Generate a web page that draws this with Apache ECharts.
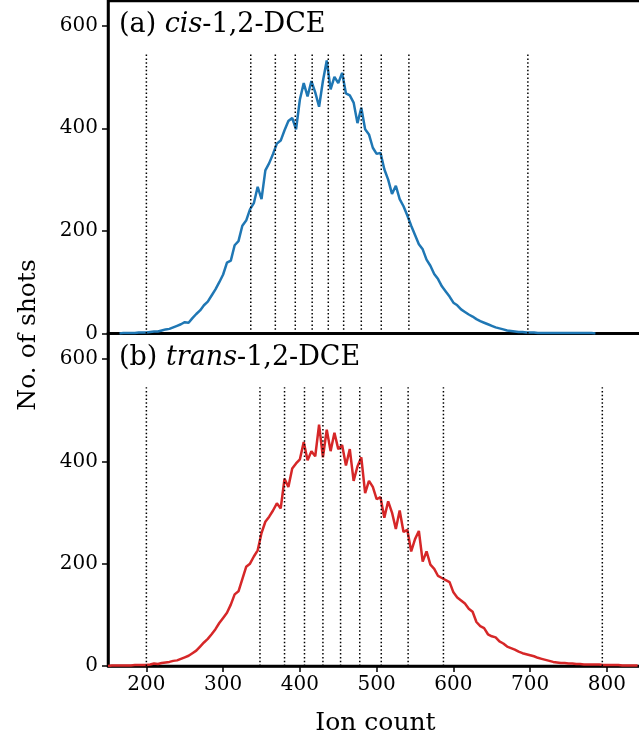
<!DOCTYPE html>
<html>
<head>
<meta charset="utf-8">
<script src="https://cdn.jsdelivr.net/npm/echarts@6/dist/echarts.min.js"></script>
<style>
  html, body { margin: 0; padding: 0; background: #fff; }
  #main { width: 639px; height: 742px; }
</style>
</head>
<body>
<div id="main"></div>
<script>
// histogram bins: first bin centre and bin spacing (ion count)
var binStep = 5;
var cisStart = 165;
var transStart = 150;

// (a) cis-1,2-DCE, number of shots per bin
var cisCounts = [
    0, 1, 1, 1, 1, 2, 2, 2, 3, 4, 4, 6, 8, 9, 12, 15, 18, 22, 21, 30,
    38, 45, 55, 62, 74, 86, 100, 115, 138, 142, 172, 180, 210, 220, 242, 254, 286, 262, 318, 332,
    350, 370, 376, 396, 414, 420, 398, 456, 488, 462, 492, 470, 442, 492, 532, 476, 500, 488, 508, 468,
    464, 450, 410, 440, 398, 388, 362, 350, 352, 320, 300, 272, 288, 262, 248, 230, 210, 192, 174, 164,
    144, 132, 116, 106, 92, 82, 72, 60, 55, 47, 42, 37, 33, 28, 24, 21, 18, 15, 12, 10,
    8, 6, 5, 4, 3, 3, 2, 2, 2, 1, 1, 1, 1, 1, 1, 1, 1, 1, 1, 1,
    1, 1, 1, 1, 0
];

// (b) trans-1,2-DCE, number of shots per bin
var transCounts = [
    0, 1, 1, 1, 1, 1, 1, 2, 2, 2, 2, 3, 5, 4, 6, 7, 8, 10, 11, 14,
    17, 20, 25, 30, 38, 46, 53, 62, 72, 84, 94, 104, 120, 140, 146, 170, 194, 200, 214, 226,
    260, 282, 292, 304, 318, 308, 366, 350, 386, 396, 404, 438, 402, 420, 410, 472, 408, 462, 420, 456,
    424, 432, 392, 424, 362, 390, 408, 338, 362, 350, 326, 330, 290, 322, 300, 268, 304, 262, 266, 224,
    248, 264, 204, 224, 198, 190, 176, 172, 168, 164, 144, 134, 128, 122, 112, 106, 86, 78, 74, 62,
    58, 56, 48, 44, 38, 35, 32, 28, 25, 23, 21, 19, 16, 14, 12, 10, 8, 7, 6, 6,
    5, 5, 4, 4, 3, 3, 3, 3, 3, 2, 2, 2, 2, 2, 1, 1, 1, 1, 1
];

// dotted marker positions (ion count)
var cisCuts = [200, 336, 368, 394, 416, 437, 457, 480, 506, 542, 697];
var transCuts = [200, 348, 380, 406, 430, 453, 478, 506, 541, 587, 794];
var cutHeight = 545;

var yTicks = [0, 200, 400, 600];
var xTicks = [200, 300, 400, 500, 600, 700, 800];

var font = "'DejaVu Serif', serif";

function toPairs(start, counts) {
    var out = [];
    for (var i = 0; i < counts.length; i++) {
        out.push([start + i * binStep, counts[i]]);
    }
    return out;
}

var myChart = echarts.init(document.getElementById('main'), null, {renderer: 'canvas'});

function yAxisFor(grid, max) {
    return {
        type: 'value',
        gridIndex: grid,
        min: 0,
        max: max,
        axisLine: {show: true, lineStyle: {color: '#000', width: 2.5}},
        axisTick: {show: true, length: 6, customValues: yTicks, lineStyle: {color: '#000', width: 1.5}},
        axisLabel: {
            customValues: yTicks,
            margin: 10,
            color: '#000',
            fontFamily: font,
            fontSize: 20
        },
        splitLine: {show: false}
    };
}

function xAxisFor(grid, showLabels) {
    return {
        type: 'value',
        gridIndex: grid,
        min: 150,
        max: 847,
        axisLine: {show: true, onZero: false, lineStyle: {color: '#000', width: 2.5}},
        axisTick: {show: showLabels, length: 6, customValues: xTicks, lineStyle: {color: '#000', width: 1.5}},
        axisLabel: {
            show: showLabels,
            customValues: xTicks,
            margin: 9,
            color: '#000',
            fontFamily: font,
            fontSize: 20
        },
        splitLine: {show: false},
        name: showLabels ? 'Ion count' : '',
        nameLocation: 'middle',
        nameGap: 45,
        nameTextStyle: {color: '#000', fontFamily: font, fontSize: 25}
    };
}

var series = [];

function addCuts(cuts, idx) {
    cuts.forEach(function (c) {
        series.push({
            type: 'line',
            xAxisIndex: idx,
            yAxisIndex: idx,
            data: [[c, 0], [c, cutHeight]],
            showSymbol: false,
            silent: true,
            z: 5,
            lineStyle: {color: '#000', width: 1.5, type: [1.5, 2.3]}
        });
    });
}

series.push({
    type: 'line',
    xAxisIndex: 0,
    yAxisIndex: 0,
    data: toPairs(cisStart, cisCounts),
    showSymbol: false,
    z: 3,
    lineStyle: {color: '#1f77b4', width: 2.5}
});
series.push({
    type: 'line',
    xAxisIndex: 1,
    yAxisIndex: 1,
    data: toPairs(transStart, transCounts),
    showSymbol: false,
    z: 3,
    lineStyle: {color: '#d62728', width: 2.5}
});
addCuts(cisCuts, 0);
addCuts(transCuts, 1);

var rich = {
    n: {fontFamily: font, fontSize: 27, fontWeight: 'normal', color: '#000'},
    i: {fontFamily: font, fontSize: 27, fontWeight: 'normal', fontStyle: 'italic', color: '#000'}
};

var option = {
    animation: false,
    backgroundColor: '#fff',
    title: [
        {text: '{n|(a) }{i|cis}{n|-1,2-DCE}', left: 119, top: 11, padding: 0, textStyle: {fontWeight: 'normal', rich: rich}},
        {text: '{n|(b) }{i|trans}{n|-1,2-DCE}', left: 119, top: 344, padding: 0, textStyle: {fontWeight: 'normal', rich: rich}}
    ],
    grid: [
        {left: 108, right: -4, top: 1, height: 332.5, show: true, borderColor: '#000', borderWidth: 2.5, outerBoundsMode: 'none'},
        {left: 108, right: -4, top: 333.5, height: 332.5, show: true, borderColor: '#000', borderWidth: 2.5, outerBoundsMode: 'none'}
    ],
    xAxis: [xAxisFor(0, false), xAxisFor(1, true)],
    yAxis: [yAxisFor(0, 648), yAxisFor(1, 650)],
    graphic: [{
        type: 'text',
        x: 28,
        y: 335,
        rotation: Math.PI / 2,
        style: {
            text: 'No. of shots',
            fontFamily: font,
            fontSize: 25,
            fill: '#000',
            align: 'center',
            verticalAlign: 'middle'
        }
    }],
    series: series
};
myChart.setOption(option);
</script>
</body>
</html>
